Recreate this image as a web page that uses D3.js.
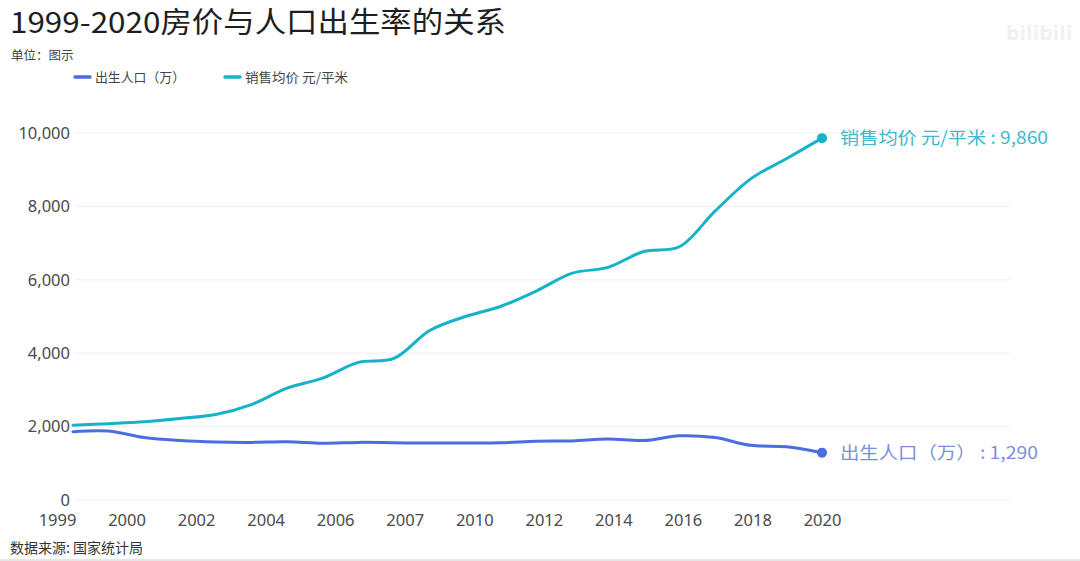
<!DOCTYPE html>
<html>
<head>
<meta charset="utf-8">
<script src="https://cdn.jsdelivr.net/npm/d3@7"></script>
<style>
  html, body { margin: 0; padding: 0; background: #fff; }
  svg { display: block; font-family: "Noto Sans CJK SC", "Noto Sans", sans-serif; }
</style>
</head>
<body>
<svg id="chart" width="1080" height="561"></svg>
<script>
// ---- data ----
const years = [1999,2000,2001,2002,2003,2004,2005,2006,2007,2008,2009,2010,2011,2012,2013,2014,2015,2016,2017,2018,2019,2020];
const births = [1860,1880,1700,1620,1580,1570,1590,1545,1570,1560,1550,1555,1560,1600,1610,1660,1620,1750,1700,1490,1450,1290];
const prices = [2040,2080,2130,2220,2330,2600,3050,3320,3750,3860,4620,5000,5280,5700,6180,6340,6770,6900,7870,8750,9300,9860];
const xTickLabels = ["1999","2000","2002","2004","2006","2007","2010","2012","2014","2016","2018","2020"];
const yTicks = [0,2000,4000,6000,8000,10000];
const seriesNames = ["出生人口（万）", "销售均价 元/平米"];
const endLabels = ["出生人口（万）  : ", "销售均价 元/平米 : "];
const titleText = "1999-2020房价与人口出生率的关系";
const unitText = "单位：图示";
const sourceText = "数据来源: 国家统计局";

// ---- styles ----
const blue = "#4a6ee0", cyan = "#16b2c8";
const blueText = "#7a90dc", cyanText = "#3fb8cf";

const svg = d3.select("#chart");

// watermark
svg.append("text").attr("x", 1006).attr("y", 40).attr("font-size", 19).attr("font-weight", 700)
  .attr("font-family", "DejaVu Sans, sans-serif").attr("fill", "#f1f1f1").text("bilibili");

// bottom border band
svg.append("rect").attr("x", 0).attr("y", 559).attr("width", 1080).attr("height", 2).attr("fill", "#e6e6e6");

// title etc.
svg.append("text").attr("x", 10).attr("y", 33).attr("font-size", 29).attr("fill", "#1e1e1e")
  .attr("textLength", 496).attr("lengthAdjust", "spacingAndGlyphs").text(titleText);
svg.append("text").attr("x", 11).attr("y", 60).attr("font-size", 12.5).attr("fill", "#444").text(unitText);
svg.append("text").attr("x", 10).attr("y", 553).attr("font-size", 14).attr("fill", "#333").text(sourceText);

// legend
const legendX = [75, 225];
const legendLen = [90, 103];
[blue, cyan].forEach((c, i) => {
  const g = svg.append("g").attr("transform", `translate(${legendX[i]},77)`);
  g.append("line").attr("x1", 0).attr("x2", 15).attr("y1", 0).attr("y2", 0)
    .attr("stroke", c).attr("stroke-width", 3.5).attr("stroke-linecap", "round");
  g.append("text").attr("x", 20).attr("y", 0).attr("dy", "0.35em").attr("font-size", 13)
    .attr("fill", "#444").attr("textLength", legendLen[i]).attr("lengthAdjust", "spacingAndGlyphs")
    .text(seriesNames[i]);
});

// scales
const y = d3.scaleLinear().domain([0, 10000]).range([500, 133]);
const x = d3.scaleLinear().domain([years[0], years[years.length - 1]]).range([73, 822]);
const xl = d3.scalePoint().domain(xTickLabels).range([57, 822]);

// grid
svg.append("g").selectAll("line").data(yTicks).join("line")
  .attr("x1", 75).attr("x2", 1010).attr("y1", d => y(d)).attr("y2", d => y(d))
  .attr("stroke", "#efefef").attr("stroke-width", 1);

// y axis
const yAxis = d3.axisLeft(y).tickValues(yTicks).tickFormat(d3.format(",")).tickSize(0).tickPadding(0);
const gy = svg.append("g").attr("transform", "translate(70,0)").call(yAxis);
gy.select(".domain").remove();
gy.selectAll("text").attr("font-size", 16.5).attr("fill", "#4a4a4a")
  .attr("font-family", "'Noto Sans', 'Open Sans', sans-serif");

// x axis
const xAxis = d3.axisBottom(xl).tickSize(0).tickPadding(0);
const gx = svg.append("g").attr("transform", "translate(0,514)").call(xAxis);
gx.select(".domain").remove();
gx.selectAll("text").attr("font-size", 16.5).attr("fill", "#4a4a4a")
  .attr("font-family", "'Noto Sans', 'Open Sans', sans-serif");

// lines
const line = d3.line().x((d, i) => x(years[i])).y(d => y(d)).curve(d3.curveCatmullRom.alpha(0.5));
[[births, blue], [prices, cyan]].forEach(([vals, c]) => {
  svg.append("path").datum(vals).attr("d", line).attr("fill", "none")
    .attr("stroke", c).attr("stroke-width", 3).attr("stroke-linejoin", "round").attr("stroke-linecap", "round");
});

// end points and labels
const last = years.length - 1;
const endLen = [198, 208];
[[births, blue, blueText, 0], [prices, cyan, cyanText, 1]].forEach(([vals, c, tc, i]) => {
  svg.append("circle").attr("cx", x(years[last])).attr("cy", y(vals[last])).attr("r", 5).attr("fill", c);
  svg.append("text").attr("x", x(years[last]) + 18).attr("y", y(vals[last])).attr("dy", "0.35em")
    .attr("font-size", 17.5).attr("fill", tc)
    .attr("textLength", endLen[i]).attr("lengthAdjust", "spacingAndGlyphs")
    .text(endLabels[i] + d3.format(",")(vals[last]));
});
</script>
</body>
</html>
